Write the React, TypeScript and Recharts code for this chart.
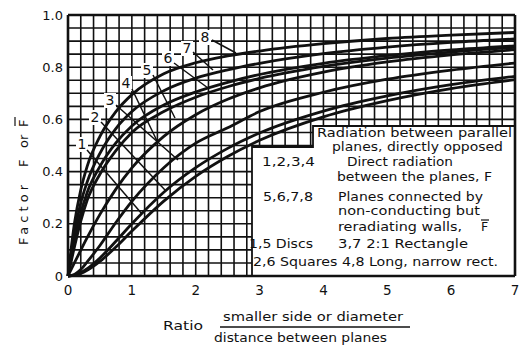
import React from "react";
import { LineChart, Line, XAxis, YAxis, ReferenceLine } from "recharts";

const ratio = [0, 0.1, 0.2, 0.3, 0.5, 0.75, 1, 1.5, 2, 2.5, 3, 4, 5, 6, 7];

// 1-4 direct radiation F
const discs = [0, 0.003, 0.01, 0.022, 0.056, 0.111, 0.172, 0.287, 0.382, 0.458, 0.52, 0.61, 0.672, 0.718, 0.752];
const squares = [0, 0.003, 0.013, 0.028, 0.069, 0.133, 0.2, 0.321, 0.415, 0.489, 0.548, 0.632, 0.69, 0.733, 0.765];
const rect21 = [0, 0.006, 0.025, 0.054, 0.117, 0.205, 0.286, 0.415, 0.509, 0.568, 0.63, 0.704, 0.754, 0.789, 0.816];
const longRect = [0, 0.05, 0.099, 0.147, 0.236, 0.333, 0.414, 0.535, 0.618, 0.677, 0.721, 0.781, 0.82, 0.847, 0.867];
// 5-8 reradiating walls, F-bar
const discsBar = [0, 0.11, 0.21, 0.29, 0.39, 0.48, 0.55, 0.63, 0.685, 0.725, 0.757, 0.803, 0.835, 0.858, 0.876];
const squaresBar = [0, 0.13, 0.24, 0.32, 0.42, 0.51, 0.575, 0.655, 0.705, 0.742, 0.772, 0.815, 0.844, 0.866, 0.882];
const rect21Bar = [0, 0.16, 0.28, 0.36, 0.47, 0.565, 0.63, 0.71, 0.758, 0.79, 0.815, 0.852, 0.877, 0.895, 0.908];
const longRectBar = [0, 0.2, 0.33, 0.42, 0.535, 0.63, 0.695, 0.775, 0.817, 0.843, 0.862, 0.89, 0.91, 0.923, 0.933];

const xTicks = [0, 1, 2, 3, 4, 5, 6, 7];
const yTicks = [0, 0.2, 0.4, 0.6, 0.8, 1];

const seriesKeys = ["c1", "c2", "c3", "c4", "c5", "c6", "c7", "c8"];
const seriesValues = [discs, squares, rect21, longRect, discsBar, squaresBar, rect21Bar, longRectBar];

const data = ratio.map((r, i) => {
  const row: Record<string, number> = { ratio: r };
  seriesKeys.forEach((k, j) => (row[k] = seriesValues[j][i]));
  return row;
});

// note box in the lower right (data units): lower step and upper step
const boxX1 = 2.88;
const boxY1 = 0.495;
const boxX2 = 3.84;
const boxY2 = 0.575;

const xGrid = Array.from({ length: 35 }, (_, i) => +(i * 0.2).toFixed(1));
const yGrid = Array.from({ length: 20 }, (_, i) => +((i + 1) * 0.05).toFixed(2));

// curve labels (pixel positions) and their leaders
const curveLabels = [
  { t: "1", x: 82, y: 149, lx1: 87, ly1: 150, lx2: 142, ly2: 214 },
  { t: "2", x: 95, y: 122, lx1: 101, ly1: 122, lx2: 165, ly2: 190 },
  { t: "3", x: 110, y: 105, lx1: 116, ly1: 105, lx2: 178, ly2: 160 },
  { t: "4", x: 126, y: 88, lx1: 132, ly1: 89, lx2: 158, ly2: 143 },
  { t: "5", x: 147, y: 75, lx1: 153, ly1: 75, lx2: 175, ly2: 118 },
  { t: "6", x: 168, y: 63, lx1: 174, ly1: 63, lx2: 208, ly2: 88 },
  { t: "7", x: 187, y: 53, lx1: 193, ly1: 52, lx2: 213, ly2: 70 },
  { t: "8", x: 205, y: 42, lx1: 212, ly1: 40, lx2: 236, ly2: 53 },
];

const font = "'DejaVu Sans', sans-serif";
const ink = "#111";

const fmtY = (v: number) => (v === 0 ? "0" : v === 1 ? "1.0" : v.toFixed(1));

const T = ({ x, y, w, size = 12.5, children }: any) => (
  <text x={x} y={y} fontSize={size} textLength={w} lengthAdjust="spacingAndGlyphs">
    {children}
  </text>
);

export default function App() {
  return (
    <div style={{ position: "absolute", left: 0, top: 0, width: 519, height: 345, background: "#fff" }}>
      <LineChart
        width={519}
        height={345}
        data={data}
        margin={{ top: 15, right: 4, left: 28, bottom: 39 }}
      >
        {xGrid.map((v) => {
          const y0 = v < boxX1 ? 0 : v < boxX2 ? boxY1 : boxY2;
          return (
            <ReferenceLine
              key={"vx" + v}
              segment={[{ x: v, y: y0 }, { x: v, y: 1 }]}
              stroke={ink}
              strokeWidth={1.6}
            />
          );
        })}
        {yGrid.map((v) => {
          const x1 = v < boxY1 ? boxX1 : v < boxY2 ? boxX2 : 7;
          return (
            <ReferenceLine
              key={"hy" + v}
              segment={[{ x: 0, y: v }, { x: x1, y: v }]}
              stroke={ink}
              strokeWidth={1.6}
            />
          );
        })}
        <ReferenceLine y={1} stroke={ink} strokeWidth={2.6} />
        <ReferenceLine x={7} stroke={ink} strokeWidth={2.6} />
        <XAxis
          dataKey="ratio"
          type="number"
          domain={[0, 7]}
          ticks={xTicks}
          height={30}
          tickSize={0}
          tickMargin={9}
          axisLine={{ stroke: ink, strokeWidth: 2.6 }}
          tick={{ fill: ink, fontSize: 13.5, fontFamily: font }}
        />
        <YAxis
          type="number"
          domain={[0, 1]}
          ticks={yTicks}
          width={40}
          tickSize={0}
          tickMargin={5}
          tickFormatter={fmtY}
          axisLine={{ stroke: ink, strokeWidth: 2.6 }}
          tick={{ fill: ink, fontSize: 13, fontFamily: font }}
        />
        {seriesKeys.map((k) => (
          <Line
            key={k}
            type="monotone"
            dataKey={k}
            stroke={ink}
            strokeWidth={2.8}
            dot={false}
            isAnimationActive={false}
          />
        ))}
      </LineChart>
      <svg
        width={519}
        height={345}
        style={{ position: "absolute", left: 0, top: 0, pointerEvents: "none" }}
        fontFamily={font}
        fill={ink}
      >
        {/* stepped outline of the note box */}
        <polyline
          points="252,276 252,147 313,147 313,126 515,126"
          fill="none"
          stroke={ink}
          strokeWidth={1.8}
        />
        {curveLabels.map((c) => (
          <g key={c.t}>
            <rect x={c.x - 6} y={c.y - 12} width={12} height={15} fill="#fff" />
            <text x={c.x} y={c.y} fontSize={14} textAnchor="middle">
              {c.t}
            </text>
            <line x1={c.lx1} y1={c.ly1} x2={c.lx2} y2={c.ly2} stroke={ink} strokeWidth={1.5} />
          </g>
        ))}
        <T x={317} y={137} w={195}>Radiation between parallel</T>
        <T x={332} y={151} w={171}>planes, directly opposed</T>
        <T x={262} y={166} w={53}>1,2,3,4</T>
        <T x={347} y={166} w={106}>Direct radiation</T>
        <T x={337} y={181} w={155}>between the planes, F</T>
        <T x={263} y={201} w={50}>5,6,7,8</T>
        <T x={338} y={201} w={145}>Planes connected by</T>
        <T x={338} y={215} w={142}>non-conducting but</T>
        <T x={338} y={231} w={124}>reradiating walls,</T>
        <text x={481} y={231} fontSize={12.5}>F</text>
        <line x1={481} y1={220} x2={489} y2={220} stroke={ink} strokeWidth={1.2} />
        <T x={249} y={248} w={64}>1,5 Discs</T>
        <T x={338} y={248} w={130}>3,7  2:1 Rectangle</T>
        <T x={253} y={266} w={245}>2,6 Squares 4,8 Long, narrow rect.</T>

        {/* y axis title */}
        <g fontSize={13}>
          <text transform="translate(28,245) rotate(-90)" textLength={60} lengthAdjust="spacing">
            Factor
          </text>
          <text transform="translate(28,167) rotate(-90)">F</text>
          <text transform="translate(28,148) rotate(-90)">or</text>
          <text transform="translate(28,127) rotate(-90)">F</text>
          <line x1={15} y1={117} x2={15} y2={126} stroke={ink} strokeWidth={1.2} />
        </g>

        {/* x axis title */}
        <T x={163} y={330} w={40} size={13}>Ratio</T>
        <T x={223} y={321} w={180} size={13}>smaller side or diameter</T>
        <line x1={220} y1={327} x2={410} y2={327} stroke={ink} strokeWidth={1.3} />
        <T x={214} y={342} w={173} size={13}>distance between planes</T>
      </svg>
    </div>
  );
}
